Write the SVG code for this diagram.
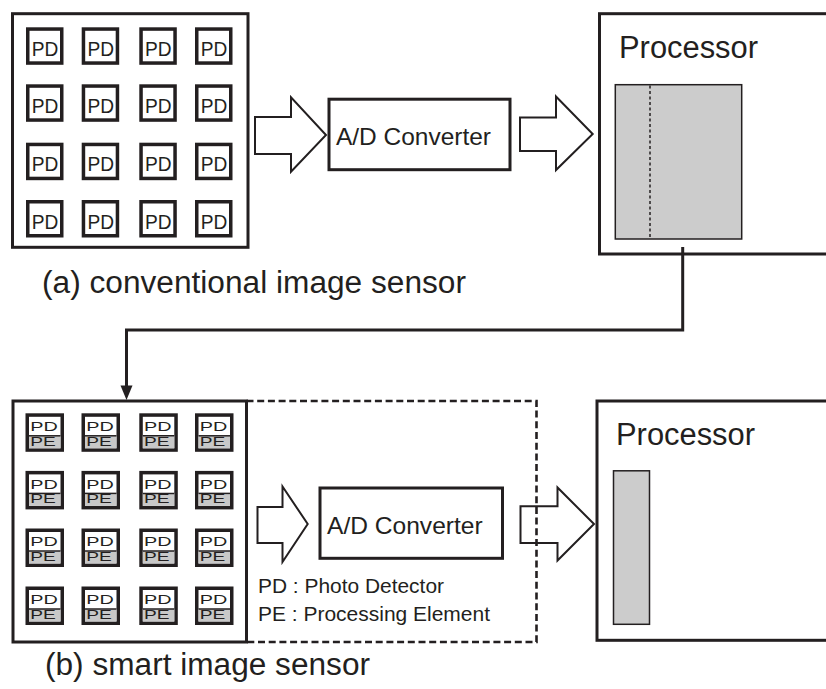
<svg xmlns="http://www.w3.org/2000/svg" width="826" height="689" viewBox="0 0 826 689">
<style>
text{font-family:"Liberation Sans",Arial,sans-serif;fill:#231f20}
.box{fill:#fff;stroke:#231f20;stroke-width:3}
.pd{fill:#fff;stroke:#231f20;stroke-width:3.5}
.pdt{font-size:21px}
.ct{font-size:13px}
.pe{fill:#c8c8c8}
.div{stroke:#231f20;stroke-width:1.5}
.gray{fill:#cccccc;stroke:#231f20;stroke-width:1.5}
.arrow{fill:#fff;stroke:#231f20;stroke-width:2;stroke-linejoin:miter}
.conn{fill:none;stroke:#231f20;stroke-width:3}
.dash{fill:none;stroke:#231f20;stroke-width:2.6;stroke-dasharray:7 3.7}
.ad{font-size:24px}
.proc{font-size:31px}
.cap{font-size:31px}
.leg{font-size:20px}
</style>
<defs>
<g id="pdcell">
<rect class="pd" x="1.75" y="1.75" width="34" height="34"/>
<text class="pdt" x="5.7" y="28.7" textLength="26.6" lengthAdjust="spacingAndGlyphs">PD</text>
</g>
<g id="pecell">
<rect class="pd" x="1.75" y="1.75" width="35" height="35"/>
<rect class="pe" x="3.5" y="22.5" width="31.5" height="12.5"/>
<line class="div" x1="3.5" y1="22.5" x2="35" y2="22.5"/>
<text class="ct" x="4.7" y="17.9" textLength="27.5" lengthAdjust="spacingAndGlyphs">PD</text>
<text class="ct" x="4.7" y="32.6" textLength="25.5" lengthAdjust="spacingAndGlyphs">PE</text>
</g>
</defs>

<!-- (a) conventional image sensor -->
<g id="sensor-a">
<rect class="box" x="12.5" y="13.7" width="235.5" height="233.6"/>
<use href="#pdcell" x="26" y="27.3"/><use href="#pdcell" x="81.7" y="27.3"/><use href="#pdcell" x="139.3" y="27.3"/><use href="#pdcell" x="195" y="27.3"/>
<use href="#pdcell" x="26" y="84.3"/><use href="#pdcell" x="81.7" y="84.3"/><use href="#pdcell" x="139.3" y="84.3"/><use href="#pdcell" x="195" y="84.3"/>
<use href="#pdcell" x="26" y="142.7"/><use href="#pdcell" x="81.7" y="142.7"/><use href="#pdcell" x="139.3" y="142.7"/><use href="#pdcell" x="195" y="142.7"/>
<use href="#pdcell" x="26" y="200"/><use href="#pdcell" x="81.7" y="200"/><use href="#pdcell" x="139.3" y="200"/><use href="#pdcell" x="195" y="200"/>
</g>

<g id="adc-a">
<rect class="box" x="329" y="99.2" width="181" height="70.5"/>
<text class="ad" x="336" y="145" textLength="155" lengthAdjust="spacingAndGlyphs">A/D Converter</text>
</g>

<g id="processor-a">
<rect class="box" x="599.5" y="13.7" width="240" height="240.3"/>
<text class="proc" x="619" y="58" textLength="139" lengthAdjust="spacingAndGlyphs">Processor</text>
<rect class="gray" x="615.3" y="84.7" width="126.4" height="154.3"/>
<line x1="650" y1="85.5" x2="650" y2="238.5" stroke="#231f20" stroke-width="1.5" stroke-dasharray="3 2.5"/>
</g>

<g id="caption-a">
<text class="cap" x="42" y="293" textLength="424" lengthAdjust="spacingAndGlyphs">(a) conventional image sensor</text>
</g>

<!-- (b) smart image sensor -->
<g id="sensor-b">
<rect class="box" x="13" y="401" width="233.5" height="241"/>
<use href="#pecell" x="25.5" y="413.3"/><use href="#pecell" x="81.5" y="413.3"/><use href="#pecell" x="139.3" y="413.3"/><use href="#pecell" x="195" y="413.3"/>
<use href="#pecell" x="25.5" y="470.9"/><use href="#pecell" x="81.5" y="470.9"/><use href="#pecell" x="139.3" y="470.9"/><use href="#pecell" x="195" y="470.9"/>
<use href="#pecell" x="25.5" y="528.5"/><use href="#pecell" x="81.5" y="528.5"/><use href="#pecell" x="139.3" y="528.5"/><use href="#pecell" x="195" y="528.5"/>
<use href="#pecell" x="25.5" y="586.5"/><use href="#pecell" x="81.5" y="586.5"/><use href="#pecell" x="139.3" y="586.5"/><use href="#pecell" x="195" y="586.5"/>
</g>

<g id="adc-b">
<rect class="box" x="320" y="488" width="182.5" height="70.3"/>
<text class="ad" x="327" y="534" textLength="155.7" lengthAdjust="spacingAndGlyphs">A/D Converter</text>
</g>

<g id="legend">
<text class="leg" x="258" y="593" textLength="186" lengthAdjust="spacingAndGlyphs">PD : Photo Detector</text>
<text class="leg" x="258" y="621" textLength="232" lengthAdjust="spacingAndGlyphs">PE : Processing Element</text>
</g>

<g id="processor-b">
<rect class="box" x="597" y="401" width="240" height="239.3"/>
<text class="proc" x="616" y="445" textLength="139" lengthAdjust="spacingAndGlyphs">Processor</text>
<rect class="gray" x="613.5" y="470.8" width="36" height="153.5"/>
</g>

<g id="caption-b">
<text class="cap" x="45" y="675" textLength="325" lengthAdjust="spacingAndGlyphs">(b) smart image sensor</text>
</g>

<!-- connectors -->
<g id="connectors">
<polygon class="arrow" points="255,117 291,117 291,97.3 326,135 291,171.7 291,154 255,154"/>
<polygon class="arrow" points="520,117.5 556,117.5 556,96.5 592.7,134 556,170 556,151 520,151"/>
<polygon class="arrow" points="257.5,507 282.5,507 282.5,486.5 307.7,524 282.5,562 282.5,543 257.5,543"/>
<polygon class="arrow" points="520.5,506.3 557.5,506.3 557.5,487.5 594,524 557.5,560.5 557.5,543 520.5,543"/>
<path class="conn" d="M682.7,247 V330 H126.5 V388"/>
<polygon points="120.5,385.5 132.5,385.5 126.5,400" fill="#231f20"/>
<path class="dash" d="M246.5,401 H536.5 V642 H246.5"/>
</g>
</svg>
